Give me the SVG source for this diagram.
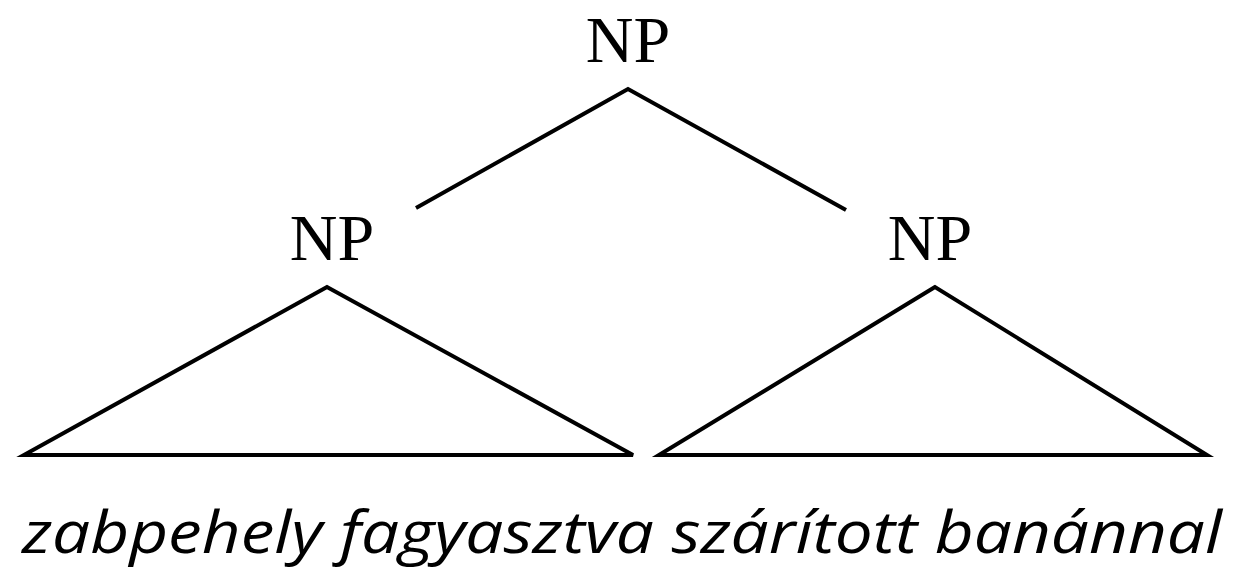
<svg xmlns="http://www.w3.org/2000/svg" width="1238" height="574" viewBox="0 0 1238 574">
<style>
.lbl{font-family:"Liberation Serif","Times New Roman",serif;font-size:66px;fill:#000;text-anchor:middle}
.ln{fill:none;stroke:#000;stroke-width:4;stroke-linejoin:miter}
.sent{font-family:"Open Sans","Noto Sans",sans-serif;font-style:italic;font-size:58px;fill:#000}
</style>
<rect width="1238" height="574" fill="#fff"/>
<g id="np-top"><text class="lbl" x="628" y="62">NP</text></g>
<g id="np-left">
<text class="lbl" x="332" y="260">NP</text>
<polygon class="ln" points="327,287 24,455 633,455"/>
</g>
<g id="np-right">
<text class="lbl" x="930" y="260">NP</text>
<polygon class="ln" points="935,287 659,455 1207,455"/>
</g>
<g id="connectors">
<polyline class="ln" points="416,208 628,89 846,210"/>
</g>
<g id="sentence"><text class="sent" x="22" y="553" textLength="1200" lengthAdjust="spacingAndGlyphs">zabpehely fagyasztva szárított banánnal</text></g>
</svg>
